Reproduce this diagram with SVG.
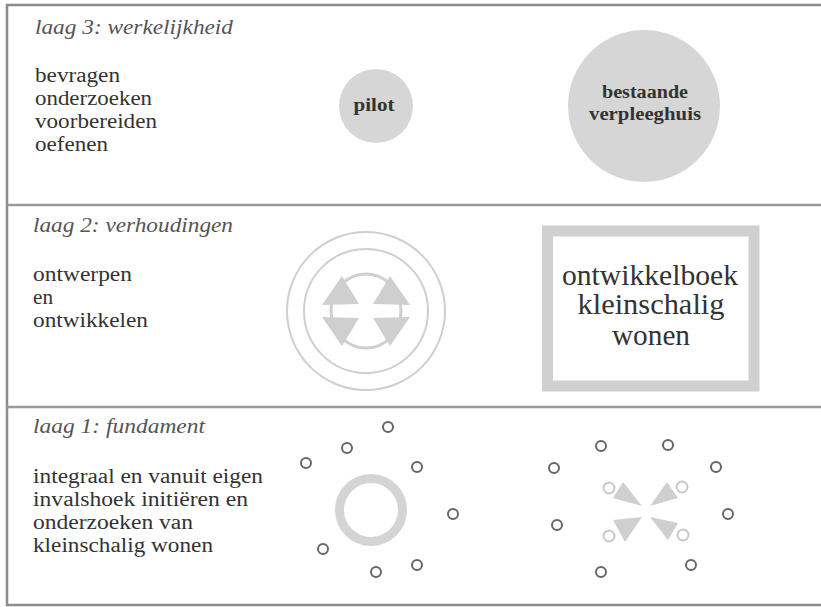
<svg xmlns="http://www.w3.org/2000/svg" width="821" height="607" viewBox="0 0 821 607">
<style>
.title{font-family:"Liberation Serif","Times New Roman",serif;font-style:italic;font-size:20px;fill:#555}
.body{font-family:"Liberation Serif","Times New Roman",serif;font-size:20px;fill:#333}
.bold{font-family:"Liberation Serif","Times New Roman",serif;font-weight:bold;font-size:18px;fill:#333;text-anchor:middle}
.book{font-family:"Liberation Serif","Times New Roman",serif;font-size:29px;fill:#333;text-anchor:middle}
.frame{fill:none;stroke:#8c8c8c;stroke-width:2.5}
.sep{stroke:#999;stroke-width:2.5}
.disc{fill:#d6d6d6}
.ring{fill:none;stroke:#cfcfcf;stroke-width:2}
.tri{fill:#cfcfcf}
.dot{fill:none;stroke:#666;stroke-width:2}
.ldot{fill:none;stroke:#c8c8c8;stroke-width:2}
</style>
<rect width="821" height="607" fill="#fff"/>
<g id="frame">
<path class="frame" d="M823,5 H7 V605 H823"/>
<line class="sep" x1="7" y1="205" x2="823" y2="205"/>
<line class="sep" x1="7" y1="407" x2="823" y2="407"/>
</g>
<g id="layer3-text">
<text class="title" x="35" y="34" textLength="198" lengthAdjust="spacingAndGlyphs">laag 3: werkelijkheid</text>
<text class="body" x="35" y="82" textLength="85" lengthAdjust="spacingAndGlyphs">bevragen</text>
<text class="body" x="35" y="105" textLength="117" lengthAdjust="spacingAndGlyphs">onderzoeken</text>
<text class="body" x="35" y="128" textLength="122" lengthAdjust="spacingAndGlyphs">voorbereiden</text>
<text class="body" x="35" y="151" textLength="73" lengthAdjust="spacingAndGlyphs">oefenen</text>
</g>
<g id="pilot">
<circle class="disc" cx="376" cy="106" r="37"/>
<text class="bold" x="374" y="111" textLength="41" lengthAdjust="spacingAndGlyphs">pilot</text>
</g>
<g id="verpleeghuis">
<circle class="disc" cx="644" cy="106" r="76"/>
<text class="bold" x="645" y="98" textLength="86" lengthAdjust="spacingAndGlyphs">bestaande</text>
<text class="bold" x="645" y="120" textLength="112" lengthAdjust="spacingAndGlyphs">verpleeghuis</text>
</g>
<g id="layer2-text">
<text class="title" x="33" y="232" textLength="200" lengthAdjust="spacingAndGlyphs">laag 2: verhoudingen</text>
<text class="body" x="33" y="281" textLength="99" lengthAdjust="spacingAndGlyphs">ontwerpen</text>
<text class="body" x="33" y="304" textLength="20" lengthAdjust="spacingAndGlyphs">en</text>
<text class="body" x="33" y="327" textLength="115" lengthAdjust="spacingAndGlyphs">ontwikkelen</text>
</g>
<g id="cycle" transform="translate(366,311)">
<circle class="ring" r="79"/>
<circle class="ring" r="62"/>
<ellipse fill="none" stroke="#cfcfcf" stroke-width="3" rx="35" ry="37"/>
<polygon class="tri" points="-24,-35 -44,-6 -7,-7"/>
<polygon class="tri" points="24,-35 44,-6 7,-7"/>
<polygon class="tri" points="-24,35 -44,6 -7,7"/>
<polygon class="tri" points="24,35 44,6 7,7"/>
</g>
<g id="ontwikkelboek">
<rect x="547.5" y="231" width="206.5" height="155" fill="none" stroke="#d0d0d0" stroke-width="11"/>
<text class="book" x="650" y="285" textLength="176" lengthAdjust="spacingAndGlyphs">ontwikkelboek</text>
<text class="book" x="651" y="314" textLength="147" lengthAdjust="spacingAndGlyphs">kleinschalig</text>
<text class="book" x="651" y="345" textLength="78" lengthAdjust="spacingAndGlyphs">wonen</text>
</g>
<g id="layer1-text">
<text class="title" x="33" y="433" textLength="172" lengthAdjust="spacingAndGlyphs">laag 1: fundament</text>
<text class="body" x="33" y="483" textLength="230" lengthAdjust="spacingAndGlyphs">integraal en vanuit eigen</text>
<text class="body" x="33" y="506" textLength="215" lengthAdjust="spacingAndGlyphs">invalshoek initiëren en</text>
<text class="body" x="33" y="529" textLength="160" lengthAdjust="spacingAndGlyphs">onderzoeken van</text>
<text class="body" x="33" y="552" textLength="180" lengthAdjust="spacingAndGlyphs">kleinschalig wonen</text>
</g>
<g id="fundament-left">
<circle cx="371" cy="510" r="31.5" fill="none" stroke="#d4d4d4" stroke-width="9"/>
<circle class="dot" cx="388" cy="427" r="5"/>
<circle class="dot" cx="347" cy="448" r="5"/>
<circle class="dot" cx="306" cy="463" r="5"/>
<circle class="dot" cx="417" cy="467" r="5"/>
<circle class="dot" cx="453" cy="514" r="5"/>
<circle class="dot" cx="323" cy="549" r="5"/>
<circle class="dot" cx="376" cy="572" r="5"/>
<circle class="dot" cx="417" cy="565" r="5"/>
</g>
<g id="fundament-right">
<circle class="dot" cx="601" cy="446" r="5"/>
<circle class="dot" cx="668" cy="445" r="5"/>
<circle class="dot" cx="554" cy="468" r="5"/>
<circle class="dot" cx="716" cy="467" r="5"/>
<circle class="dot" cx="557" cy="525" r="5"/>
<circle class="dot" cx="728" cy="514" r="5"/>
<circle class="dot" cx="601" cy="572" r="5"/>
<circle class="dot" cx="691" cy="565" r="5"/>
<circle class="ldot" cx="609" cy="488" r="5.5"/>
<circle class="ldot" cx="682" cy="487" r="5.5"/>
<circle class="ldot" cx="609" cy="536" r="5.5"/>
<circle class="ldot" cx="683" cy="535" r="5.5"/>
<polygon class="tri" points="623,482 613,498 642,506"/>
<polygon class="tri" points="667,482 678,498 650,506"/>
<polygon class="tri" points="613,520 625,542 642,517"/>
<polygon class="tri" points="678,523 668,540 650,517"/>
</g>
</svg>
